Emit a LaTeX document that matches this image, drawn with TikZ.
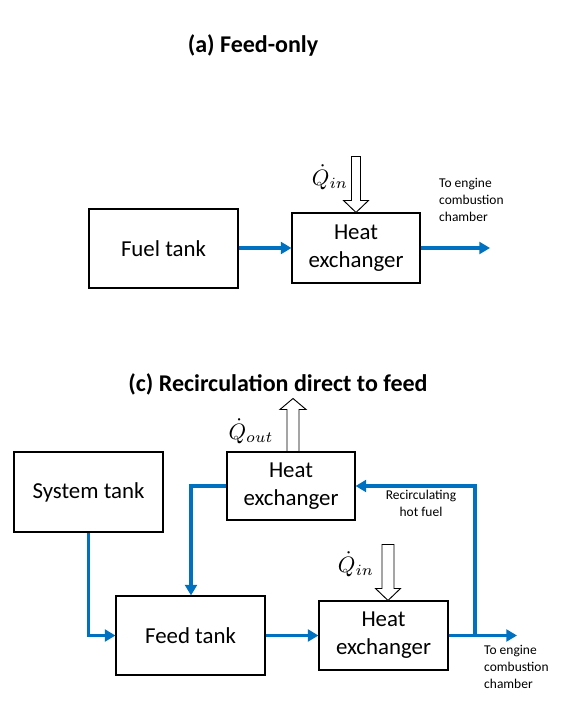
\documentclass[tikz,border=0pt]{standalone}
\usepackage{amsmath, amssymb}
\usepackage{fontspec}
\setmainfont{Carlito}
\usetikzlibrary{arrows.meta, positioning, calc}
\definecolor{flowblue}{RGB}{0,112,192}
\tikzset{
	box/.style={draw, line width=0.9pt, align=center, inner sep=0pt, font=\fontsize{19.5}{24}\selectfont},
	flow/.style={flowblue, line width=2.8pt, -{Triangle[length=9pt,width=10pt]}},
	note/.style={align=left, inner sep=0pt, font=\fontsize{11.5}{14.5}\selectfont},
	heat/.style={draw, line width=0.8pt, fill=white},
	qlabel/.style={scale=1.9, inner sep=0pt},
	title/.style={font=\bfseries\fontsize{20.5}{24}\selectfont}
}
\begin{document}
\begin{tikzpicture}[x=0.03cm, y=-0.03cm]
			\useasboundingbox (0,0) rectangle (568,706);
			
			% (a) feed-only
			\node[title] (ttla) at (253,45) {(a) Feed-only};
			\node[box, minimum width=4.47cm, minimum height=2.37cm] (fuel) at (163.5,248.5) {Fuel tank};
			\node[box, minimum width=3.84cm, minimum height=2.1cm] (hxa) at (356,248) {Heat\\exchanger};
			\coordinate (outa) at (490,248);
			\draw[flow] (fuel.east |- hxa.west) -- (hxa.west);
			\draw[flow] (hxa.east) -- (outa);
			\node[note, anchor=north west] (enga) at (439,178) {To engine\\combustion\\chamber};
			\draw[heat] (hxa.north) -- ++(-12.5,-12) -- ++(8,0) -- ++(0,-44) -- ++(9,0) -- ++(0,44) -- ++(8,0) -- cycle;
			\node[qlabel] (qina) at (330,177) {$\dot{Q}_{in}$};
			
			% (c) recirculation direct to feed
			\node[title] (ttlc) at (278,384) {(c) Recirculation direct to feed};
			\node[box, minimum width=4.47cm, minimum height=2.4cm] (sys) at (88.5,492) {System tank};
			\node[box, minimum width=3.84cm, minimum height=2.04cm] (hxt) at (291,486) {Heat\\exchanger};
			\node[box, minimum width=4.47cm, minimum height=2.37cm] (feed) at (190.5,635.5) {Feed tank};
			\node[box, minimum width=3.87cm, minimum height=2.07cm] (hxb) at (383.5,635.5) {Heat\\exchanger};
			\coordinate (outc) at (517,635.5);
			\coordinate (split) at (475,635.5);
			
			\draw[flow] (sys.south) |- (feed.west);
			\draw[flow] (hxt.west) -| (feed.north -| 191,0);
			\draw[flow] (feed.east) -- (hxb.west);
			\draw[flow] (hxb.east) -- (outc);
			\draw[flow] (split) |- (hxt.east);
			\node[note, align=center, anchor=north] (recirc) at (421,490) {Recirculating\\hot fuel};
			\node[note, anchor=north west] (engc) at (484,645) {To engine\\combustion\\chamber};
			
			\draw[heat] (hxb.north -| 388,0) -- ++(-12.5,-12) -- ++(6.5,0) -- ++(0,-44) -- ++(12,0) -- ++(0,44) -- ++(6.5,0) -- cycle;
			\node[qlabel] (qinb) at (356,564) {$\dot{Q}_{in}$};
			\draw[heat] (hxt.north -| 293,0) -- ++(-6,0) -- ++(0,-42) -- ++(-7,0) -- ++(13,-11) -- ++(13,11) -- ++(-7,0) -- ++(0,42) -- cycle;
			\node[qlabel] (qout) at (251,431) {$\dot{Q}_{out}$};
\end{tikzpicture}
\end{document}
